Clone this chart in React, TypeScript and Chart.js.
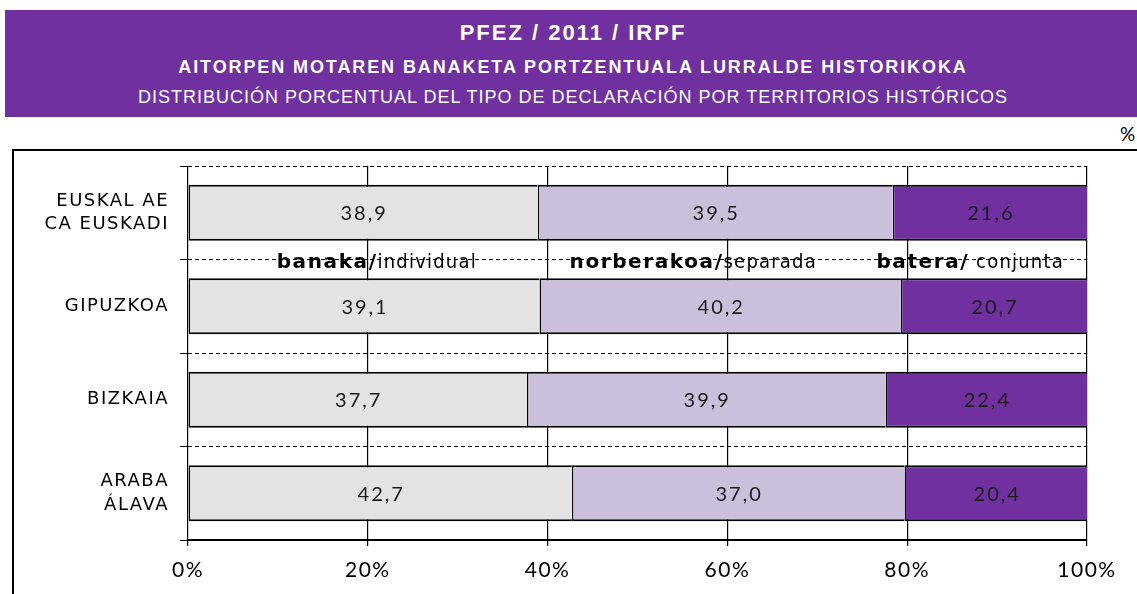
import React, { useEffect, useRef } from "react";
import { Chart, registerables } from "chart.js";

Chart.register(...registerables);

const categories: (string | string[])[] = [
  ["EUSKAL AE", "CA EUSKADI"],
  "GIPUZKOA",
  "BIZKAIA",
  ["ARABA", "ÁLAVA"],
];
const individualValues = [38.9, 39.1, 37.7, 42.7];
const separadaValues = [39.5, 40.2, 39.9, 37.0];
const conjuntaValues = [21.6, 20.7, 22.4, 20.4];
const xTickValues = [0, 20, 40, 60, 80, 100];
const legendBold = ["banaka/", "norberakoa/", "batera/"];
const legendNormal = ["individual", "separada", " conjunta"];

const seriesColors = ["#E3E3E3", "#CBC0DB", "#7030A0"];

export default function App() {
  const ref = useRef<HTMLCanvasElement>(null);

  useEffect(() => {
    const canvas = ref.current;
    if (!canvas) return;

    const spacingPlugin = {
      id: "spacing",
      beforeDraw(chart: any) {
        chart.ctx.letterSpacing = "1.5px";
      },
    };

    const labelsPlugin = {
      id: "valueLabels",
      afterDatasetsDraw(chart: any) {
        const ctx = chart.ctx;
        ctx.save();
        ctx.letterSpacing = "2px";
        ctx.font = "20px Lato";
        ctx.fillStyle = "#1a1a1a";
        ctx.textAlign = "center";
        ctx.textBaseline = "middle";
        chart.data.datasets.forEach((ds: any, di: number) => {
          const meta = chart.getDatasetMeta(di);
          meta.data.forEach((el: any, i: number) => {
            const p = el.getCenterPoint();
            const txt = Number(ds.data[i]).toFixed(1).replace(".", ",");
            ctx.fillText(txt, p.x + 1, p.y + 1);
          });
        });
        // legend row between first and second categories
        const y = chart.scales.y;
        const x = chart.scales.x;
        const ly = (y.getPixelForValue(0) + y.getPixelForValue(1)) / 2 + 3;
        const centers = [21, 56.2, 87];
        const boldFont = "bold 20px 'DejaVu Sans'";
        const normFont = "20px 'DejaVu Sans Condensed', 'DejaVu Sans'";
        ctx.textBaseline = "middle";
        ctx.textAlign = "left";
        ctx.fillStyle = "#000";
        legendBold.forEach((b, i) => {
          ctx.letterSpacing = "1.6px";
          ctx.font = boldFont;
          const wb = ctx.measureText(b).width;
          ctx.letterSpacing = "1.2px";
          ctx.font = normFont;
          const wn = ctx.measureText(legendNormal[i]).width;
          const cx = x.getPixelForValue(centers[i]);
          const sx = cx - (wb + wn) / 2;
          ctx.letterSpacing = "1.6px";
          ctx.font = boldFont;
          ctx.fillText(b, sx, ly);
          ctx.letterSpacing = "1.2px";
          ctx.font = normFont;
          ctx.fillText(legendNormal[i], sx + wb, ly);
        });
        ctx.restore();
      },
    };

    const mk = (label: string, data: number[], color: string) => ({
      label,
      data,
      backgroundColor: color,
      borderColor: "#000",
      borderWidth: { top: 2, bottom: 2, left: 1.5, right: 0 },
      borderSkipped: false,
      barPercentage: 0.6,
      categoryPercentage: 1,
    });

    const chart = new Chart(canvas, {
      type: "bar",
      data: {
        labels: categories,
        datasets: [
          mk(legendBold[0] + legendNormal[0], individualValues, seriesColors[0]),
          mk(legendBold[1] + legendNormal[1], separadaValues, seriesColors[1]),
          mk(legendBold[2] + legendNormal[2], conjuntaValues, seriesColors[2]),
        ],
      },
      options: {
        indexAxis: "y",
        responsive: false,
        animation: false,
        layout: { padding: { top: 166, right: 50, bottom: 0, left: 0 } },
        plugins: {
          legend: { display: false },
          tooltip: { enabled: false },
          title: { display: false },
        },
        scales: {
          x: {
            stacked: true,
            min: 0,
            max: 100,
            afterBuildTicks(scale: any) {
              scale.ticks = xTickValues.map((v) => ({ value: v }));
            },
            afterFit(scale: any) {
              scale.height = 54;
            },
            ticks: {
              callback: (v: any) => v + "%",
              font: { family: "Lato", size: 21 },
              color: "#000",
              padding: 12,
              maxRotation: 0,
              autoSkip: false,
            },
            grid: {
              color: "#000",
              lineWidth: 1.2,
              tickLength: 6,
            },
            border: { display: true, color: "#000", width: 2 },
          },
          y: {
            stacked: true,
            afterFit(scale: any) {
              scale.width = 188;
            },
            ticks: {
              font: { family: "DejaVu Sans", size: 18, lineHeight: 1.3 },
              color: "#000",
              padding: 11,
              crossAlign: "near",
            },
            grid: {
              color: "#000",
              lineWidth: 1,
              tickLength: 8,
              offset: true,
            },
            border: { display: false, dash: [4, 3] },
          },
        },
      },
      plugins: [spacingPlugin, labelsPlugin],
    });
    return () => chart.destroy();
  }, []);

  const lineStyle = (top: number, size: number, bold: boolean): React.CSSProperties => ({
    position: "absolute",
    left: 0,
    width: "100%",
    top,
    textAlign: "center",
    fontFamily: "'Liberation Sans', Arial, sans-serif",
    fontWeight: bold ? "bold" : "normal",
    fontSize: size,
    lineHeight: size + "px",
    paddingLeft: 4,
    boxSizing: "border-box",
    whiteSpace: "nowrap",
  });

  return (
    <div
      style={{
        position: "absolute",
        left: 0,
        top: 0,
        width: 1137,
        height: 594,
        overflow: "hidden",
        background: "#fff",
      }}
    >
      <div
        style={{
          position: "absolute",
          left: 5,
          top: 10,
          width: 1132,
          height: 107,
          background: "#7030A0",
          color: "#fff",
        }}
      >
        <div style={{ ...lineStyle(12, 22, true), letterSpacing: 2 }}>PFEZ / 2011 / IRPF</div>
        <div style={{ ...lineStyle(48, 18, true), letterSpacing: 1.9 }}>
          AITORPEN MOTAREN BANAKETA PORTZENTUALA LURRALDE HISTORIKOKA
        </div>
        <div style={{ ...lineStyle(78, 18, false), letterSpacing: 1.0 }}>
          DISTRIBUCIÓN PORCENTUAL DEL TIPO DE DECLARACIÓN POR TERRITORIOS HISTÓRICOS
        </div>
      </div>
      <div
        style={{
          position: "absolute",
          left: 1120,
          top: 123,
          fontFamily: "Lato",
          fontSize: 19,
          lineHeight: "22px",
        }}
      >
        %
      </div>
      <div
        style={{
          position: "absolute",
          left: 12,
          top: 149,
          width: 1300,
          height: 600,
          border: "2px solid #000",
        }}
      />
      <canvas
        ref={ref}
        width={1137}
        height={594}
        style={{ position: "absolute", left: 0, top: 0, width: 1137, height: 594 }}
      />
    </div>
  );
}
